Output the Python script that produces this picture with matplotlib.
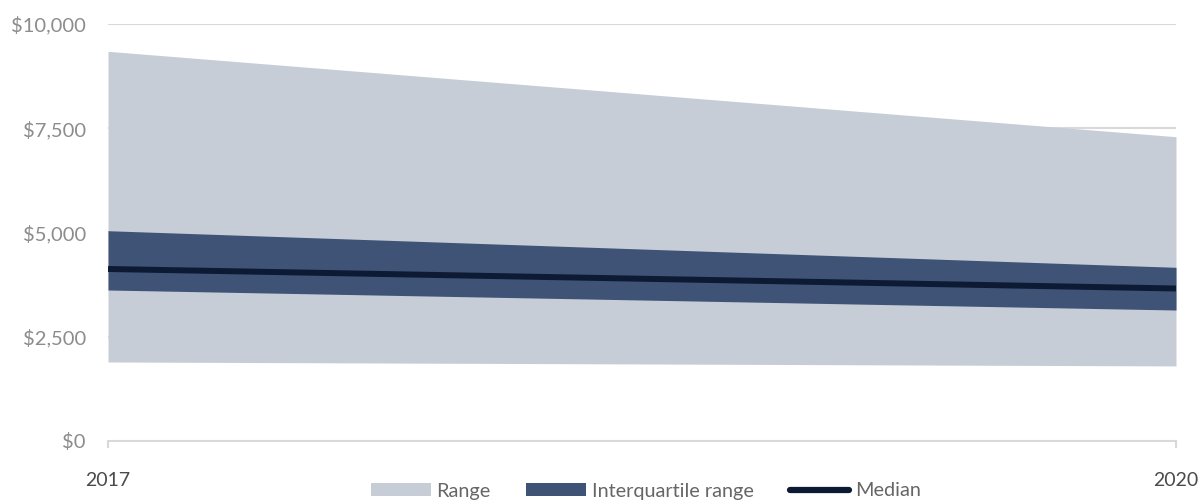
import matplotlib
matplotlib.use("Agg")
import matplotlib.pyplot as plt
from matplotlib.patches import Patch
from matplotlib.lines import Line2D
from matplotlib.ticker import FuncFormatter

plt.rcParams['font.family'] = ['Lato', 'DejaVu Sans']

years = [2017, 2020]
range_low = [1895, 1800]
range_high = [9345, 7297]
iqr_low = [3621, 3141]
iqr_high = [5043, 4165]
median = [4125, 3657]

yticks = [0, 2500, 5000, 7500, 10000]
legend_labels = ["Range", "Interquartile range", "Median"]

c_range = "#c6cdd7"
c_iqr = "#3f5377"
c_median = "#0d1a33"
c_grid = "#d9d9d9"

fig = plt.figure(figsize=(11.98, 5.03), dpi=100)
ax = fig.add_axes([108 / 1198, 1 - 441 / 503, (1176 - 108) / 1198, (441 - 24) / 503])

ax.fill_between(years, range_low, range_high, color=c_range, linewidth=0, zorder=2)
ax.fill_between(years, iqr_low, iqr_high, color=c_iqr, linewidth=0, zorder=3)
ax.plot(years, median, color=c_median, linewidth=4.3, solid_capstyle="butt", zorder=4)

ax.set_xlim(years[0], years[-1])
ax.set_ylim(0, 10000)
ax.set_yticks(yticks)
ax.yaxis.set_major_formatter(FuncFormatter(lambda v, p: "${:,.0f}".format(v)))
ax.set_xticks(years)
ax.set_xticklabels([str(y) for y in years])

for v in yticks[1:]:
    ax.axhline(v, color=c_grid, linewidth=1.5, zorder=1)

for side in ["top", "right", "left"]:
    ax.spines[side].set_visible(False)
ax.spines["bottom"].set_color(c_grid)
ax.spines["bottom"].set_linewidth(1.5)
ax.spines["bottom"].set_zorder(1)

ax.tick_params(axis="y", length=0, pad=16, labelsize=14.5, labelcolor="#8c8c8c")
ax.tick_params(axis="x", length=5, width=1.5, color=c_grid, pad=17,
               labelsize=14, labelcolor="#4a4a4a")

handles = [
    Patch(facecolor=c_range, edgecolor="none"),
    Patch(facecolor=c_iqr, edgecolor="none"),
    Line2D([0], [0], color=c_median, linewidth=4.5, solid_capstyle="round"),
]
fig.legend(handles, legend_labels, loc="center", bbox_to_anchor=(646 / 1198, 1 - 491 / 503),
           ncol=3, frameon=False, fontsize=14.3, handlelength=3.0, handleheight=0.6,
           handletextpad=0.3, columnspacing=1.8, labelcolor="#666666")

fig.savefig("out.png", dpi=100)
